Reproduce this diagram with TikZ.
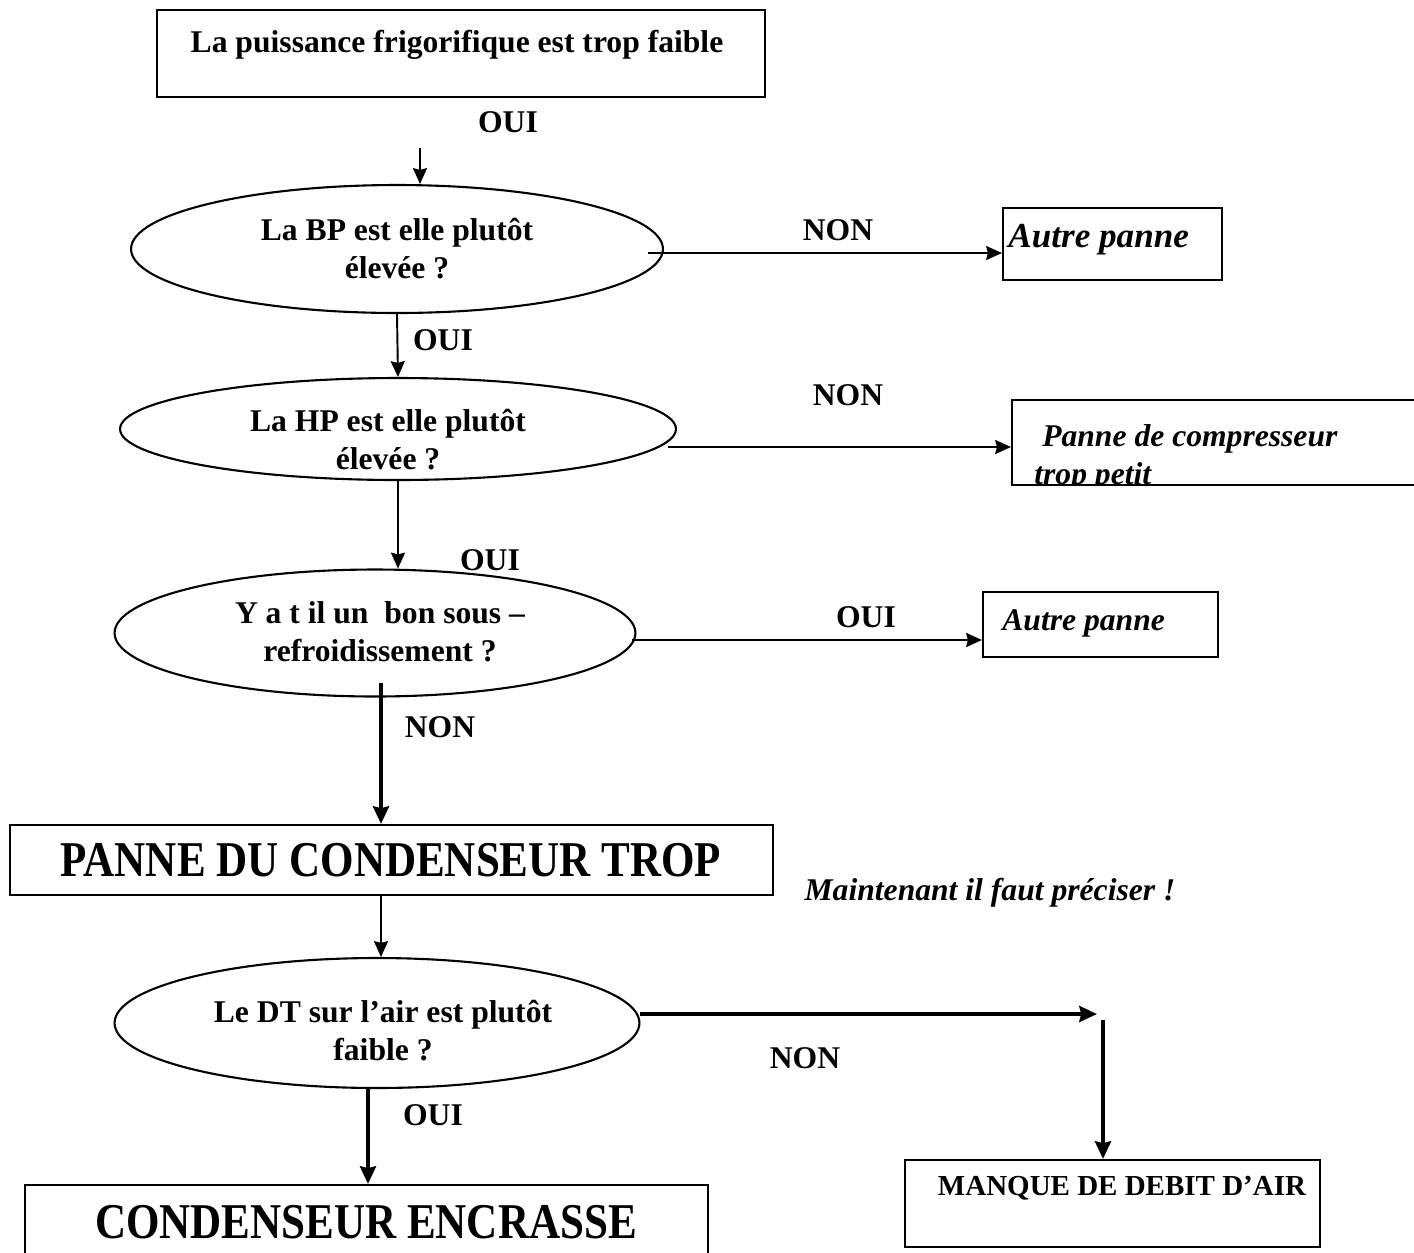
\documentclass[tikz,border=0pt]{standalone}
\usepackage{fontspec}
\setmainfont{Liberation Serif}
\newfontfamily\serree[FakeStretch=0.86]{Liberation Serif}
\usetikzlibrary{arrows.meta,shapes.geometric}
\tikzset {>=Stealth}
\tikzset{
  txt/.style={font=\fontsize{18}{21.6}\selectfont\bfseries, inner sep=0pt, align=center},
  itxt/.style={font=\fontsize{18}{21.6}\selectfont\bfseries\itshape, inner sep=0pt, align=left},
  bigtxt/.style={font=\serree\fontsize{28.5}{32}\selectfont\bfseries, inner sep=0pt},
  question/.style={draw, ellipse, line width=1.2pt, inner sep=0pt},
  boite/.style={draw, rectangle, line width=1.2pt, inner sep=0pt},
  fleche/.style={-{Stealth[length=9pt,width=8pt,inset=1pt]}, line width=1.1pt},
  grosse/.style={-{Stealth[length=10pt,width=9pt,inset=1pt]}, line width=2.8pt},
}
\begin{document}
\begin{tikzpicture}[x=0.02cm,y=-0.02cm]
\clip (0,0) rectangle (1414,1252);
% boites
\node[boite, minimum width=12.16cm, minimum height=1.74cm] (depart) at (461,53.5) {};
\node[txt] (departt) at (457,45) {La puissance frigorifique est trop faible};
\node[boite, minimum width=4.38cm, minimum height=1.44cm] (autre1) at (1112.5,244) {};
\node[itxt, font=\fontsize{20}{24}\selectfont\bfseries\itshape, anchor=west] (autre1t) at (1008,240) {Autre panne};
\node[boite, minimum width=8.56cm, minimum height=1.7cm] (compr) at (1226,442.5) {};
\begin{scope}
\clip (1013,401) rectangle (1414,484);
\node[itxt, anchor=north west] (comprt) at (1034,424) {\ Panne de compresseur\\trop petit};
\end{scope}
\node[boite, minimum width=4.7cm, minimum height=1.3cm] (autre2) at (1100.5,624.5) {};
\node[itxt, anchor=west] (autre2t) at (1002,623) {Autre panne};
\node[boite, minimum width=15.26cm, minimum height=1.4cm] (conds) at (391.5,860) {};
\node[bigtxt] (condst) at (391,860) {PANNE DU CONDENSEUR TROP};
\node[itxt] (preciser) at (990,893) {Maintenant il faut préciser !};
\node[boite, minimum width=13.66cm, minimum height=2.1cm] (encr) at (366.5,1237.5) {};
\node[bigtxt] (encrt) at (366,1222) {CONDENSEUR ENCRASSE};
\node[boite, minimum width=8.3cm, minimum height=1.74cm] (debit) at (1112.5,1203.5) {};
\node[txt, font=\fontsize{16.5}{20}\selectfont\bfseries] (debitt) at (1122,1188) {MANQUE DE DEBIT D’AIR};
% questions
\node[question, minimum width=10.64cm, minimum height=2.56cm] (q1) at (397,249) {};
\node[txt] (q1t) at (397,249) {La BP est elle plutôt\\élevée ?};
\node[question, minimum width=11.12cm, minimum height=2.04cm] (q2) at (398,429) {};
\node[txt] (q2t) at (388,440) {La HP est elle plutôt\\élevée ?};
\node[question, minimum width=10.42cm, minimum height=2.54cm] (q3) at (375,633) {};
\node[txt] (q3t) at (380,632) {Y a t il un\ \ bon sous –\\refroidissement ?};
\node[question, minimum width=10.5cm, minimum height=2.6cm] (q4) at (377,1023) {};
\node[txt] (q4t) at (383,1031) {Le DT sur l’air est plutôt\\faible ?};
% reponses
\node[txt] (oui0) at (508,122) {OUI};
\node[txt] (non1) at (838,230) {NON};
\node[txt] (oui1) at (443,340) {OUI};
\node[txt] (non2) at (848,395) {NON};
\node[txt] (oui2) at (490,560) {OUI};
\node[txt] (oui3) at (866,617) {OUI};
\node[txt] (non3) at (440,727) {NON};
\node[txt] (non4) at (805,1058) {NON};
\node[txt] (oui4) at (433,1115) {OUI};
% fleches
\coordinate (d0) at (420,148);
\draw[fleche] (d0) -- (d0 |- q1.north);
\coordinate (d1) at (648,253);
\draw[fleche] (d1) -- (d1 -| autre1.west);
\draw[fleche] (q1.south) -- (q2.north);
\coordinate (d2) at (668,447);
\draw[fleche] (d2) -- (d2 -| compr.west);
\draw[fleche] (q2.south) -- (q2.south |- q3.north);
\coordinate (d3) at (632,640);
\draw[fleche] (d3) -- (d3 -| autre2.west);
\coordinate (d4) at (381,683);
\draw[grosse] (d4) -- (d4 |- conds.north);
\draw[fleche] (d4 |- conds.south) -- (d4 |- q4.north);
\coordinate (d5) at (640,1014);
\coordinate (d6) at (1097,1014);
\draw[grosse] (d5) -- (d6);
\coordinate (d7) at (1103,1020);
\draw[grosse] (d7) -- (d7 |- debit.north);
\coordinate (d8) at (368,1088);
\draw[grosse] (d8) -- (d8 |- encr.north);
\end{tikzpicture}
\end{document}
